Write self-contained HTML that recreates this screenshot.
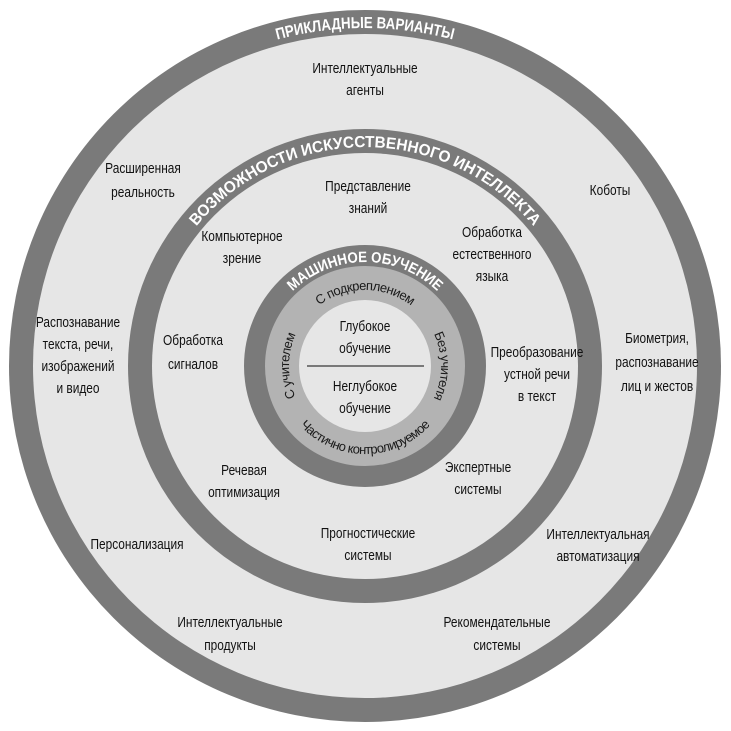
<!DOCTYPE html>
<html><head><meta charset="utf-8"><style>
html,body{margin:0;padding:0;background:#fff;}
svg{display:block;}
text{font-family:"Liberation Sans","DejaVu Sans",sans-serif;}
.l{font-size:14.5px;fill:#111;text-anchor:middle;}
.r{font-size:16px;fill:#fff;font-weight:bold;}
.m{font-size:13px;fill:#1a1a1a;letter-spacing:-0.6px;}
</style></head><body>
<svg width="731" height="731" viewBox="0 0 731 731">
<defs>
<path id="top1" d="M27,366 A338,338 0 0 1 703,366"/>
<path id="top2" d="M146,366 A219,219 0 0 1 584,366"/>
<path id="top3" d="M261,366 A104,104 0 0 1 469,366"/>
<path id="inTop" d="M289,366 A76,76 0 0 1 441,366"/>
<path id="inRight" d="M365,290 A76,76 0 0 1 365,442"/>
<path id="inLeft" d="M365,442 A76,76 0 0 1 365,290"/>
<path id="inBot" d="M277,366 A88,88 0 0 0 453,366"/>
</defs>
<circle cx="365" cy="366" r="356" fill="#7a7a7a"/>
<circle cx="365" cy="366" r="332" fill="#e6e6e6"/>
<circle cx="365" cy="366" r="237" fill="#7a7a7a"/>
<circle cx="365" cy="366" r="213" fill="#e6e6e6"/>
<circle cx="365" cy="366" r="121" fill="#7a7a7a"/>
<circle cx="365" cy="366" r="100" fill="#b3b3b3"/>
<circle cx="365" cy="366" r="66" fill="#e6e6e6"/>
<line x1="307" y1="366" x2="424" y2="366" stroke="#555" stroke-width="1.5"/>

<text class="r"><textPath href="#top1" startOffset="50%" text-anchor="middle" textLength="178" lengthAdjust="spacingAndGlyphs">ПРИКЛАДНЫЕ ВАРИАНТЫ</textPath></text>
<text class="r"><textPath href="#top2" startOffset="50%" text-anchor="middle" textLength="385" lengthAdjust="spacingAndGlyphs">ВОЗМОЖНОСТИ ИСКУССТВЕННОГО ИНТЕЛЛЕКТА</textPath></text>
<text class="r" style="font-size:15px"><textPath href="#top3" startOffset="50%" text-anchor="middle" textLength="160" lengthAdjust="spacingAndGlyphs">МАШИННОЕ ОБУЧЕНИЕ</textPath></text>
<text class="m"><textPath href="#inTop" startOffset="50%" text-anchor="middle">С подкреплением</textPath></text>
<text class="m"><textPath href="#inRight" startOffset="50%" text-anchor="middle">Без учителя</textPath></text>
<text class="m"><textPath href="#inLeft" startOffset="50%" text-anchor="middle">С учителем</textPath></text>
<text class="m"><textPath href="#inBot" startOffset="50%" text-anchor="middle">Частично контролируемое</textPath></text>

<text class="l" transform="translate(365 331) scale(0.82 1)">Глубокое</text>
<text class="l" transform="translate(365 353) scale(0.82 1)">обучение</text>
<text class="l" transform="translate(365 391) scale(0.82 1)">Неглубокое</text>
<text class="l" transform="translate(365 413) scale(0.82 1)">обучение</text>

<text class="l" transform="translate(365 73) scale(0.82 1)">Интеллектуальные</text>
<text class="l" transform="translate(365 95) scale(0.82 1)">агенты</text>
<text class="l" transform="translate(143 173) scale(0.82 1)">Расширенная</text>
<text class="l" transform="translate(143 197) scale(0.82 1)">реальность</text>
<text class="l" transform="translate(610 195) scale(0.82 1)">Коботы</text>
<text class="l" transform="translate(368 191) scale(0.82 1)">Представление</text>
<text class="l" transform="translate(368 213) scale(0.82 1)">знаний</text>
<text class="l" transform="translate(242 241) scale(0.82 1)">Компьютерное</text>
<text class="l" transform="translate(242 263) scale(0.82 1)">зрение</text>
<text class="l" transform="translate(492 237) scale(0.82 1)">Обработка</text>
<text class="l" transform="translate(492 259) scale(0.82 1)">естественного</text>
<text class="l" transform="translate(492 281) scale(0.82 1)">языка</text>
<text class="l" transform="translate(78 327) scale(0.82 1)">Распознавание</text>
<text class="l" transform="translate(78 349) scale(0.82 1)">текста, речи,</text>
<text class="l" transform="translate(78 371) scale(0.82 1)">изображений</text>
<text class="l" transform="translate(78 393) scale(0.82 1)">и видео</text>
<text class="l" transform="translate(193 345) scale(0.82 1)">Обработка</text>
<text class="l" transform="translate(193 369) scale(0.82 1)">сигналов</text>
<text class="l" transform="translate(537 357) scale(0.82 1)">Преобразование</text>
<text class="l" transform="translate(537 379) scale(0.82 1)">устной речи</text>
<text class="l" transform="translate(537 401) scale(0.82 1)">в текст</text>
<text class="l" transform="translate(657 343) scale(0.82 1)">Биометрия,</text>
<text class="l" transform="translate(657 367) scale(0.82 1)">распознавание</text>
<text class="l" transform="translate(657 391) scale(0.82 1)">лиц и жестов</text>
<text class="l" transform="translate(244 475) scale(0.82 1)">Речевая</text>
<text class="l" transform="translate(244 497) scale(0.82 1)">оптимизация</text>
<text class="l" transform="translate(478 472) scale(0.82 1)">Экспертные</text>
<text class="l" transform="translate(478 494) scale(0.82 1)">системы</text>
<text class="l" transform="translate(368 538) scale(0.82 1)">Прогностические</text>
<text class="l" transform="translate(368 560) scale(0.82 1)">системы</text>
<text class="l" transform="translate(137 549) scale(0.82 1)">Персонализация</text>
<text class="l" transform="translate(598 539) scale(0.82 1)">Интеллектуальная</text>
<text class="l" transform="translate(598 561) scale(0.82 1)">автоматизация</text>
<text class="l" transform="translate(230 627) scale(0.82 1)">Интеллектуальные</text>
<text class="l" transform="translate(230 650) scale(0.82 1)">продукты</text>
<text class="l" transform="translate(497 627) scale(0.82 1)">Рекомендательные</text>
<text class="l" transform="translate(497 650) scale(0.82 1)">системы</text>
</svg>
</body></html>
